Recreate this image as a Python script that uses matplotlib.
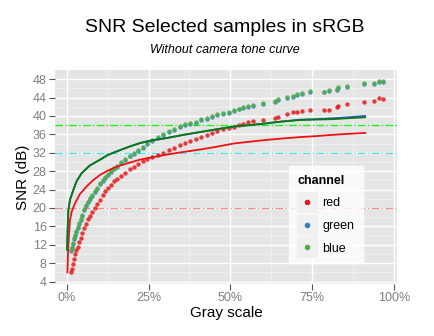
import numpy as np
import matplotlib; matplotlib.use("Agg")
import matplotlib.pyplot as plt
from matplotlib.lines import Line2D
from matplotlib.ticker import FuncFormatter

plt.rcParams["font.family"] = ["Liberation Sans", "DejaVu Sans"]

# --- data ---------------------------------------------------------------
x_pts = [0.013, 0.015, 0.018, 0.021, 0.025, 0.029, 0.033, 0.038, 0.043, 0.048,
         0.054, 0.060, 0.066, 0.072, 0.078, 0.085, 0.093, 0.102, 0.110, 0.118,
         0.127, 0.135, 0.145, 0.155, 0.165, 0.178, 0.192, 0.205, 0.218, 0.232,
         0.246, 0.262, 0.278, 0.295, 0.312, 0.328, 0.345, 0.362, 0.378, 0.395,
         0.410, 0.428, 0.445, 0.460, 0.478, 0.495, 0.510, 0.525, 0.540, 0.555,
         0.570, 0.600, 0.635, 0.645, 0.672, 0.690, 0.705, 0.720, 0.744, 0.785,
         0.800, 0.825, 0.830, 0.857, 0.907, 0.938, 0.953, 0.966]
red_pts = [6.0, 6.8, 7.8, 8.9, 9.9, 10.8, 11.5, 12.6, 13.4, 14.5,
           15.6, 16.5, 17.5, 18.3, 19.1, 20.0, 20.9, 21.8, 22.9, 23.6,
           24.3, 25.0, 25.8, 26.4, 26.9, 27.7, 28.4, 29.0, 29.6, 30.1,
           30.6, 31.0, 31.5, 32.0, 32.5, 33.0, 33.6, 34.1, 34.6, 35.0,
           35.4, 35.9, 36.3, 36.7, 37.1, 37.4, 37.7, 38.0, 38.3, 38.6,
           38.8, 39.2, 39.6, 39.8, 40.5, 40.8, 40.9, 41.1, 41.3, 41.3,
           41.3, 41.9, 42.2, 42.6, 43.1, 43.3, 44.0, 43.7]
green_pts = [10.7, 11.4, 12.2, 13.2, 14.0, 14.8, 15.6, 16.5, 17.4, 18.3,
             19.5, 20.4, 21.2, 22.0, 22.7, 23.4, 24.2, 25.2, 25.9, 26.6,
             27.2, 27.8, 28.5, 29.0, 29.7, 30.5, 31.2, 31.8, 32.4, 33.1,
             33.9, 34.6, 35.3, 35.9, 36.6, 36.9, 37.6, 38.0, 38.3, 38.5,
             39.1, 39.4, 39.8, 40.2, 40.5, 40.7, 41.1, 41.4, 41.8, 42.0,
             42.2, 42.6, 43.1, 43.5, 43.9, 44.2, 44.5, 44.7, 45.3, 45.1,
             45.4, 45.7, 46.0, 46.3, 46.9, 46.9, 47.3, 47.3]
blue_pts = [10.9, 11.6, 12.4, 13.4, 14.2, 15.0, 15.8, 16.7, 17.6, 18.5,
            19.7, 20.6, 21.4, 22.2, 22.9, 23.6, 24.4, 25.4, 26.1, 26.8,
            27.4, 28.0, 28.7, 29.2, 29.9, 30.7, 31.4, 32.0, 32.6, 33.3,
            34.1, 34.8, 35.5, 36.1, 36.8, 37.1, 37.8, 38.2, 38.5, 38.7,
            39.3, 39.6, 40.0, 40.4, 40.7, 40.9, 41.3, 41.6, 42.0, 42.2,
            42.4, 42.8, 43.3, 43.7, 44.1, 44.4, 44.7, 44.9, 45.5, 45.3,
            45.6, 45.9, 46.2, 46.5, 47.1, 47.1, 47.5, 47.5]

x_red_fit = [0.002, 0.004, 0.007, 0.010, 0.015, 0.025, 0.040, 0.061, 0.080, 0.102,
             0.125, 0.153, 0.190, 0.224, 0.260, 0.306, 0.350, 0.408, 0.450, 0.510,
             0.560, 0.612, 0.660, 0.713, 0.760, 0.815, 0.860, 0.912]
red_fit = [6.0, 10.5, 14.5, 17.4, 19.2, 21.0, 23.0, 24.7, 26.0, 27.2,
           28.1, 29.0, 29.8, 30.5, 31.0, 31.6, 32.1, 32.7, 33.2, 34.0,
           34.4, 34.8, 35.1, 35.4, 35.6, 35.9, 36.1, 36.3]
x_gb_fit = [0.001, 0.003, 0.005, 0.010, 0.020, 0.030, 0.046, 0.070, 0.102, 0.125,
            0.153, 0.190, 0.224, 0.260, 0.306, 0.350, 0.408, 0.450, 0.510, 0.560,
            0.612, 0.660, 0.713, 0.760, 0.815, 0.860, 0.912]
green_fit = [10.9, 16.0, 19.6, 21.8, 23.9, 25.8, 27.6, 29.2, 30.5, 31.5,
             32.3, 33.3, 34.1, 34.7, 35.2, 35.8, 36.5, 37.0, 37.7, 38.0,
             38.4, 38.8, 39.1, 39.2, 39.3, 39.5, 39.7]
blue_fit = [10.9, 16.0, 19.6, 21.8, 23.9, 25.8, 27.6, 29.2, 30.5, 31.5,
            32.3, 33.3, 34.1, 34.7, 35.2, 35.8, 36.5, 37.0, 37.7, 38.0,
            38.4, 38.8, 39.2, 39.3, 39.5, 39.7, 40.0]

ref_levels = [38, 32, 20]
ref_colors = ["#00ff00", "#40e8e8", "#f08c8c"]

channels = ["red", "green", "blue"]
pt_colors = ["#e41a1c", "#377eb8", "#4daf4a"]

# --- figure --------------------------------------------------------------
fig = plt.figure(figsize=(4.35, 3.36), dpi=100)
ax = fig.add_axes([0.1264, 0.155, 0.786, 0.637])
ax.set_facecolor("#e5e5e5")
for s in ax.spines.values(): s.set_visible(False)

ax.set_xlim(-0.036, 1.009)
ax.set_ylim(3.5, 50.0)
ax.set_xticks([0, 0.25, 0.5, 0.75, 1.0])
ax.set_xticks([0.125, 0.375, 0.625, 0.875], minor=True)
ax.set_yticks(range(4, 49, 4))
ax.set_yticks(range(6, 50, 4), minor=True)
ax.xaxis.set_major_formatter(FuncFormatter(lambda v, _: f"{v*100:.0f}%"))
ax.grid(which="major", color="white", lw=1.0)
ax.grid(which="minor", color="#f2f2f2", lw=0.5)
ax.set_axisbelow(True)
ax.tick_params(which="major", length=4, width=0.8, color="#555555",
               labelcolor="#7f7f7f", labelsize=9, pad=2)
ax.tick_params(which="minor", length=0)

for lv, c in zip(ref_levels, ref_colors):
    ax.axhline(lv, color=c, lw=0.9, ls=(0, (6, 2, 1, 2)), zorder=1.5)

# red first, then green, then blue on top
for ys, c in zip([red_pts, green_pts, blue_pts], pt_colors):
    ax.scatter(x_pts, ys, s=10, color=c, alpha=0.85, lw=0, zorder=2)

ax.plot(x_red_fit, red_fit, color="#ee1111", lw=1.3, zorder=3)
ax.plot(x_gb_fit, blue_fit, color="#2a5fd0", lw=1.3, zorder=3)
ax.plot(x_gb_fit, green_fit, color="#0a7a0a", lw=1.3, zorder=3)

ax.set_xlabel("Gray scale", fontsize=11, labelpad=1)
ax.set_ylabel("SNR (dB)", fontsize=11, labelpad=2)

fig.text(0.517, 0.918, "SNR Selected samples in sRGB", ha="center", va="center", fontsize=14)
fig.text(0.517, 0.852, "Without camera tone curve", ha="center", va="center",
         fontsize=9, style="italic")

# grey key boxes with a dot on top, like ggplot
handles = [(Line2D([], [], marker="s", ls="", color="#f0f0f0", markersize=15),
            Line2D([], [], marker="o", ls="", color=c, markersize=3)) for c in pt_colors]
leg = ax.legend(handles, channels, title="channel", loc="upper left",
                bbox_to_anchor=(0.665, 0.58), frameon=True, fancybox=False,
                fontsize=9, title_fontsize=9, handlelength=1.5, handletextpad=0.5,
                borderpad=0.7, labelspacing=0.85)
leg.get_frame().set_facecolor("white")
leg.get_frame().set_edgecolor("white")
leg.get_title().set_fontweight("bold")
leg._legend_box.align = "left"

fig.savefig("out.png", dpi=100)
